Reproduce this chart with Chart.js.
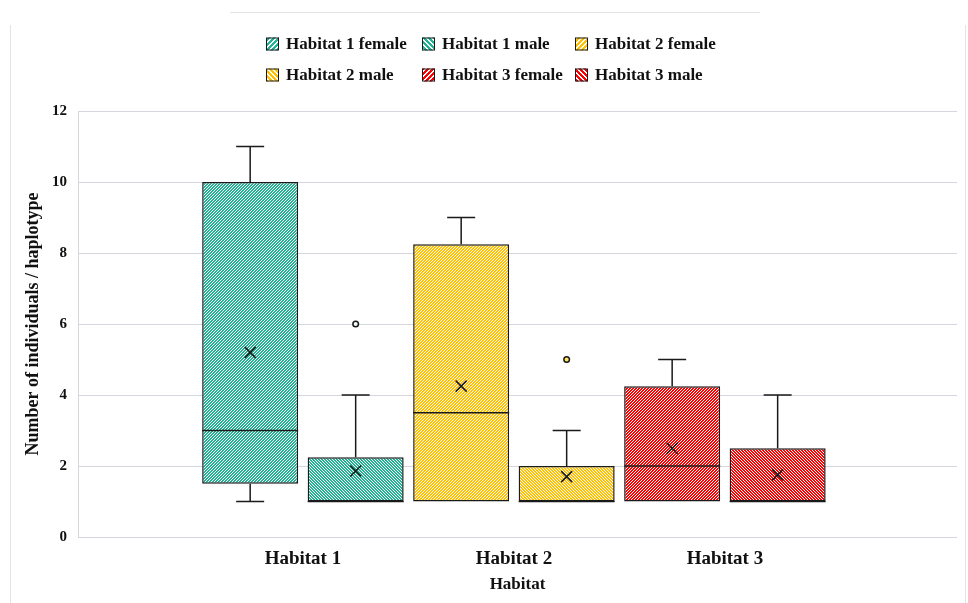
<!DOCTYPE html>
<html>
<head>
<meta charset="utf-8">
<script src="https://cdn.jsdelivr.net/npm/chart.js@4.4.1/dist/chart.umd.min.js"></script>
<style>
body{margin:0;background:#fff;}
#wrap{width:968px;height:603px;}
</style>
</head>
<body>
<div id="wrap"><canvas id="chart" width="968" height="603"></canvas></div>
<script>
// categories and series
var habitats = ['Habitat 1', 'Habitat 2', 'Habitat 3'];
var sexes = ['female', 'male'];
var yTicks = [0, 2, 4, 6, 8, 10, 12];

// female boxes, one value per habitat
var femaleMin = [1, 1, 1];
var femaleQ1 = [1.5, 1, 1];
var femaleMedian = [3, 3.5, 2];
var femaleQ3 = [10, 8.25, 4.25];
var femaleMax = [11, 9, 5];
var femaleMean = [5.2, 4.25, 2.5];
var femaleOutliers = [[], [], []];

// male boxes
var maleMin = [1, 1, 1];
var maleQ1 = [1, 1, 1];
var maleMedian = [1, 1, 1];
var maleQ3 = [2.25, 2, 2.5];
var maleMax = [4, 3, 4];
var maleMean = [1.86, 1.7, 1.75];
var maleOutliers = [[6], [5], []];

// styles
var habitatColors = ['#22b394', '#ffc000', '#ff0000'];
var outlierFill = ['#f2fbf8', '#ffe45c', '#ff9a9a'];
var FONT = "'Liberation Serif', 'Times New Roman', serif";
var INK = '#1a1a1a';

function makePattern(color, dir, period, fill){
    var c = document.createElement('canvas');
    c.width = period; c.height = period;
    var cx = c.getContext('2d');
    cx.fillStyle = '#ffffff';
    cx.fillRect(0, 0, period, period);
    cx.fillStyle = color;
    for(var x = 0; x < period; x++){
        for(var y = 0; y < period; y++){
            var k = dir == 'up' ? (x + y) % period : (x - y + period) % period;
            if(k < fill){
                cx.fillRect(x, y, 1, 1);
            }
        }
    }
    return cx.createPattern(c, 'repeat');
}

function buildStats(mins, q1s, meds, q3s, maxs, means, outs){
    var list = [];
    for(var i = 0; i < habitats.length; i++){
        list.push({min: mins[i], q1: q1s[i], median: meds[i], q3: q3s[i], max: maxs[i], mean: means[i], outliers: outs[i]});
    }
    return list;
}

var femaleStats = buildStats(femaleMin, femaleQ1, femaleMedian, femaleQ3, femaleMax, femaleMean, femaleOutliers);
var maleStats = buildStats(maleMin, maleQ1, maleMedian, maleQ3, maleMax, maleMean, maleOutliers);

function boxData(stats){
    return stats.map(function(s, i){ return {x: i + 1, y: [s.q1, s.q3]}; });
}

var femalePatterns = habitatColors.map(function(c){ return makePattern(c, 'up', 3, 2); });
var malePatterns = habitatColors.map(function(c){ return makePattern(c, 'down', 3, 2); });

// whiskers, medians, means and outliers on top of the boxes
var boxExtras = {
    id: 'boxExtras',
    afterDatasetsDraw: function(chart){
        var ctx = chart.ctx;
        var ys = chart.scales.y;
        ctx.save();
        ctx.strokeStyle = INK;
        ctx.lineWidth = 1.5;
        chart.data.datasets.forEach(function(ds, di){
            var meta = chart.getDatasetMeta(di);
            meta.data.forEach(function(bar, i){
                var s = ds.stats[i];
                var x = bar.x, half = bar.width / 2, cap = 14;
                var pMin = ys.getPixelForValue(s.min), pMax = ys.getPixelForValue(s.max);
                var pQ1 = ys.getPixelForValue(s.q1), pQ3 = ys.getPixelForValue(s.q3);
                ctx.beginPath();
                if(s.max > s.q3){
                    ctx.moveTo(x, pQ3); ctx.lineTo(x, pMax);
                    ctx.moveTo(x - cap, pMax); ctx.lineTo(x + cap, pMax);
                }
                if(s.min < s.q1){
                    ctx.moveTo(x, pQ1); ctx.lineTo(x, pMin);
                    ctx.moveTo(x - cap, pMin); ctx.lineTo(x + cap, pMin);
                }
                var pMed = ys.getPixelForValue(s.median);
                ctx.moveTo(x - half, pMed); ctx.lineTo(x + half, pMed);
                var pMean = ys.getPixelForValue(s.mean), m = 5.5;
                ctx.moveTo(x - m, pMean - m); ctx.lineTo(x + m, pMean + m);
                ctx.moveTo(x - m, pMean + m); ctx.lineTo(x + m, pMean - m);
                ctx.stroke();
                s.outliers.forEach(function(v){
                    ctx.beginPath();
                    ctx.arc(x, ys.getPixelForValue(v), 2.8, 0, Math.PI * 2);
                    ctx.fillStyle = outlierFill[i];
                    ctx.fill();
                    ctx.stroke();
                });
            });
        });
        ctx.restore();
    }
};

// legend in a 3 column grid plus the thin outer frame
var gridLegend = {
    id: 'gridLegend',
    beforeDraw: function(chart){
        var ctx = chart.ctx;
        ctx.save();
        ctx.fillStyle = '#ffffff';
        ctx.fillRect(0, 0, chart.width, chart.height);
        ctx.strokeStyle = '#e4e4e4';
        ctx.lineWidth = 1;
        ctx.beginPath();
        ctx.moveTo(230, 12.5); ctx.lineTo(760, 12.5);
        ctx.moveTo(10.5, 25); ctx.lineTo(10.5, 603);
        ctx.moveTo(965.5, 25); ctx.lineTo(965.5, 603);
        ctx.stroke();
        ctx.restore();
    },
    afterDraw: function(chart){
        var ctx = chart.ctx;
        var colX = [266, 422, 575], rowY = [44, 75];
        ctx.save();
        ctx.font = 'bold 17px ' + FONT;
        ctx.textBaseline = 'middle';
        var n = 0;
        habitats.forEach(function(h, hi){
            sexes.forEach(function(sx){
                var col = n % 3, row = Math.floor(n / 3);
                var bx = colX[col], by = rowY[row] - 6.5;
                ctx.fillStyle = makePattern(habitatColors[hi], sx == 'female' ? 'up' : 'down', 5, 3);
                ctx.fillRect(bx, by, 13, 13);
                ctx.strokeStyle = INK;
                ctx.lineWidth = 1;
                ctx.strokeRect(bx + 0.5, by + 0.5, 12, 12);
                ctx.fillStyle = '#111';
                ctx.fillText(h + ' ' + sx, bx + 20, rowY[row] + 1);
                n++;
            });
        });
        ctx.restore();
    }
};

var ctx = document.getElementById('chart').getContext('2d');
var chart = new Chart(ctx, {
    type: 'bar',
    data: {
        datasets: [{
            label: 'female',
            data: boxData(femaleStats),
            stats: femaleStats,
            backgroundColor: femalePatterns,
            borderColor: INK,
            borderWidth: 1.5,
            borderSkipped: false
        }, {
            label: 'male',
            data: boxData(maleStats),
            stats: maleStats,
            backgroundColor: malePatterns,
            borderColor: INK,
            borderWidth: 1.5,
            borderSkipped: false
        }]
    },
    options: {
        responsive: false,
        animation: false,
        categoryPercentage: 1.0,
        barPercentage: 0.91,
        layout: {padding: {left: 0, top: 111, right: 11, bottom: 0}},
        plugins: {
            legend: {display: false},
            tooltip: {enabled: false}
        },
        scales: {
            x: {
                type: 'linear',
                offset: false,
                min: -0.066,
                max: 4.1,
                afterBuildTicks: function(scale){
                    scale.ticks = habitats.map(function(h, i){ return {value: i + 1}; });
                },
                afterFit: function(scale){ scale.height = 66; },
                grid: {display: false, drawTicks: false, offset: false},
                border: {display: false},
                ticks: {
                    autoSkip: false,
                    maxRotation: 0,
                    padding: 11,
                    color: '#111',
                    font: {family: FONT, size: 19, weight: 'bold'},
                    callback: function(v){ return habitats[v - 1]; }
                },
                title: {
                    display: true,
                    text: 'Habitat',
                    color: '#111',
                    font: {family: FONT, size: 17, weight: 'bold'},
                    padding: {top: 0, bottom: 8}
                }
            },
            y: {
                min: 0,
                max: 12,
                afterBuildTicks: function(scale){
                    scale.ticks = yTicks.map(function(v){ return {value: v}; });
                },
                afterFit: function(scale){ scale.width = 78; },
                grid: {color: '#d6d6de', lineWidth: 1, drawTicks: false},
                border: {display: true, color: '#d6d6de'},
                ticks: {
                    padding: 11,
                    color: '#111',
                    font: {family: FONT, size: 15, weight: 'bold'}
                },
                title: {
                    display: true,
                    text: 'Number of individuals / haplotype',
                    color: '#111',
                    font: {family: FONT, size: 18, weight: 'bold'},
                    padding: {top: 23, bottom: 0}
                }
            }
        }
    },
    plugins: [boxExtras, gridLegend]
});
</script>
</body>
</html>
